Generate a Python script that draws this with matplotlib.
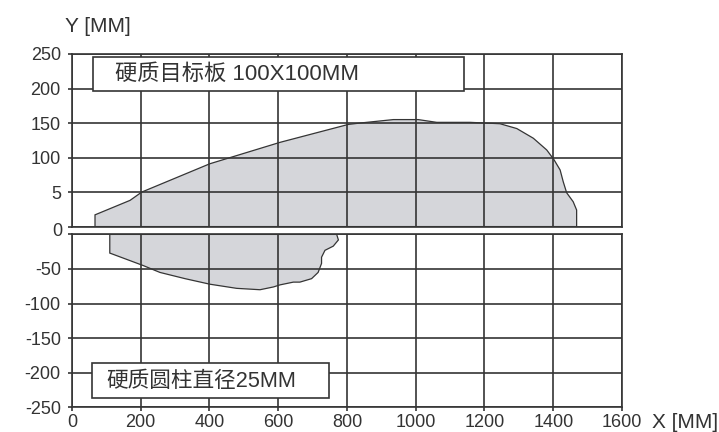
import matplotlib
matplotlib.use('Agg')
import matplotlib.pyplot as plt
from matplotlib.patches import Rectangle

# ---- data ----
x_ticks = [0, 200, 400, 600, 800, 1000, 1200, 1400, 1600]
x_tick_labels = ['0', '200', '400', '600', '800', '1000', '1200', '1400', '1600']
upper_ticks = [0, 50, 100, 150, 200, 250]
upper_tick_labels = ['', '5', '100', '150', '200', '250']
lower_ticks = [-250, -200, -150, -100, -50, 0]
lower_tick_labels = ['-250', '-200', '-150', '-100', '-50', '']
zero_label = '0'

upper_x = [67, 67, 169, 203, 401, 605, 804, 838, 935, 1007, 1061, 1158, 1245,
           1294, 1342, 1381, 1402, 1420, 1429, 1439, 1458, 1468, 1468]
upper_y = [0, 17, 38, 50, 91, 122, 148, 150, 155, 155, 151, 151, 149,
           142, 128, 111, 97, 82, 65, 49, 36, 24, 0]

lower_x = [110, 110, 207, 256, 329, 401, 479, 547, 586, 605, 644, 663, 697,
           716, 726, 726, 736, 760, 775, 770]
lower_y = [0, -27, -45, -55, -64, -72, -78, -80, -76, -73, -69, -69, -64,
           -55, -42, -33, -23, -17, -8, 0]

upper_label = '硬质目标板 100X100MM'
lower_label = '硬质圆柱直径25MM'
x_axis_label = 'X [MM]'
y_axis_label = 'Y [MM]'

# ---- style ----
LINE = '#353535'
TXT = '#333333'
FILL = '#d5d6da'
LAT = ['Liberation Sans', 'DejaVu Sans']
CJK = ['Liberation Sans', 'Noto Sans CJK SC', 'DejaVu Sans']

fig = plt.figure(figsize=(7.19, 4.32), dpi=100)
ax_top = fig.add_axes([0.1001, 0.4755, 0.765, 0.3995])
ax_bot = fig.add_axes([0.1001, 0.0572, 0.765, 0.4002])

for ax in (ax_top, ax_bot):
    ax.set_xlim(0, 1600)
    ax.set_xticks(x_ticks)
    ax.grid(True, color=LINE, linewidth=1.2)
    for s in ax.spines.values():
        s.set_color(LINE)
        s.set_linewidth(1.2)
    ax.tick_params(axis='y', direction='out', length=3, width=1.2, color=LINE,
                   pad=5, labelsize=13, labelcolor=TXT)

ax_top.set_ylim(0, 250)
ax_top.set_yticks(upper_ticks)
ax_top.set_yticklabels(upper_tick_labels, family=LAT)
ax_top.tick_params(axis='x', length=0, labelbottom=False)

ax_bot.set_ylim(-250, 0)
ax_bot.set_yticks(lower_ticks)
ax_bot.set_yticklabels(lower_tick_labels, family=LAT)
ax_bot.set_xticklabels(x_tick_labels, family=LAT)
ax_bot.tick_params(axis='x', direction='out', length=3, width=1.2, color=LINE,
                   pad=1.5, labelsize=13, labelcolor=TXT)

# shapes
ax_top.fill(upper_x, upper_y, facecolor=FILL, edgecolor=LINE, linewidth=0.9, zorder=1)
ax_bot.fill(lower_x, lower_y, facecolor=FILL, edgecolor=LINE, linewidth=0.9, zorder=1)

# label boxes
ax_top.add_patch(Rectangle((62, 197), 1141 - 62, 246 - 197, facecolor='white',
                           edgecolor=LINE, linewidth=1.2, zorder=4))
ax_top.text(125, 221, upper_label, family=CJK, fontsize=16, color=TXT,
            ha='left', va='center', zorder=5)
ax_bot.add_patch(Rectangle((57, -236), 748 - 57, 50, facecolor='white',
                           edgecolor=LINE, linewidth=1.2, zorder=4))
ax_bot.text(99, -212, lower_label, family=CJK, fontsize=15.6, color=TXT,
            ha='left', va='center', zorder=5)

# zero label and axis titles
fig.text(62 / 719, 1 - 231 / 432, zero_label, family=LAT, fontsize=13, color=TXT,
         ha='right', va='center')
fig.text(98 / 719, 1 - 26 / 432, y_axis_label, family=LAT, fontsize=15, color=TXT,
         ha='center', va='center')
fig.text(685 / 719, 1 - 422 / 432, x_axis_label, family=LAT, fontsize=15, color=TXT,
         ha='center', va='center')

fig.savefig('out.png', dpi=100)
